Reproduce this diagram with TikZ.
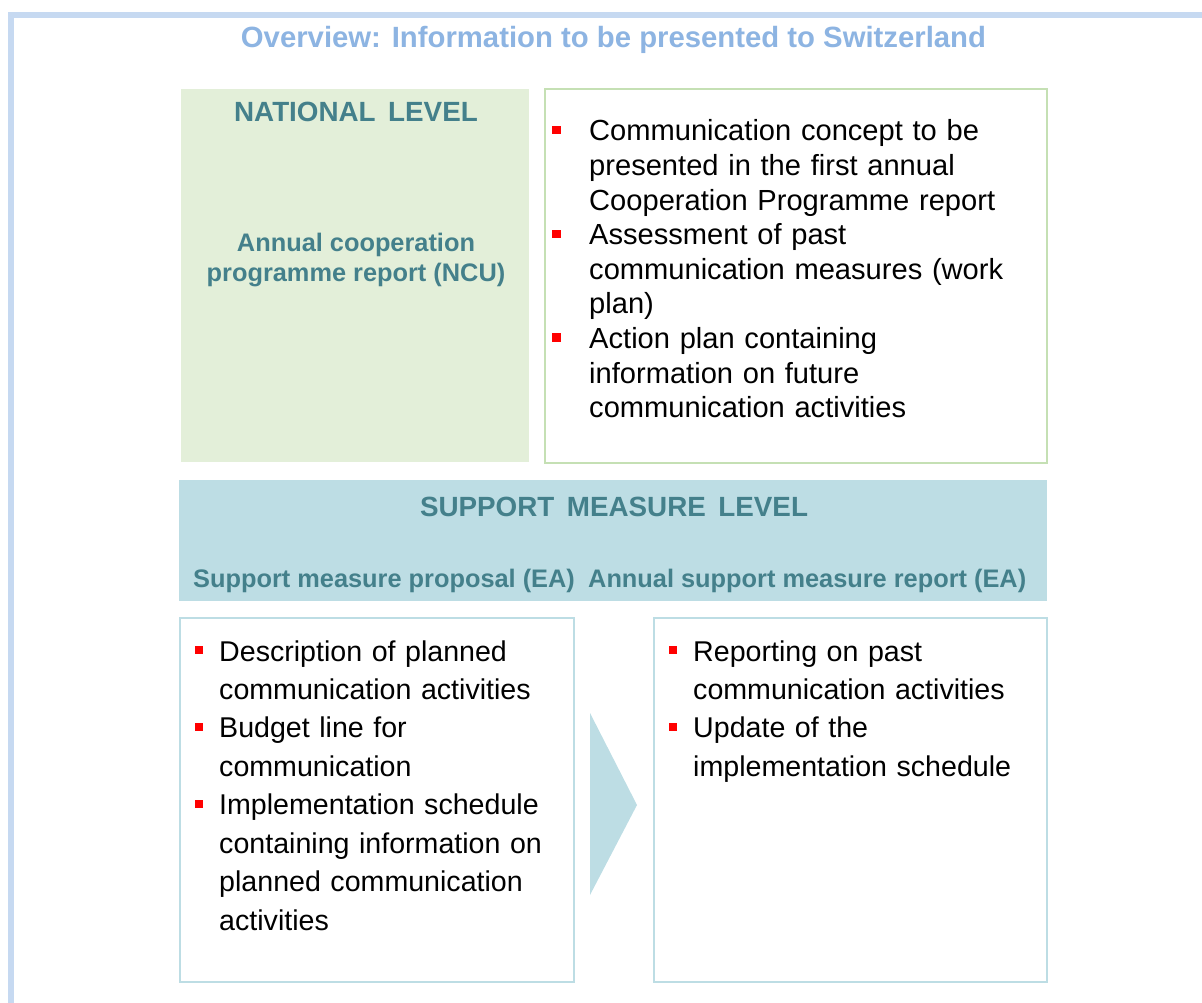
\documentclass[tikz,border=0pt]{standalone}
\usepackage{fontspec}
\setmainfont{Liberation Sans}
\definecolor{titleblue}{HTML}{8DB4E2}
\definecolor{framebl}{HTML}{C6D9F1}
\definecolor{greenfill}{HTML}{E3EFD9}
\definecolor{greenline}{HTML}{C5E0B4}
\definecolor{bluefill}{HTML}{BDDDE4}
\definecolor{teal}{HTML}{44808B}
\definecolor{bulletred}{HTML}{FF0000}
\tikzset{
  panel/.style={draw=bluefill, line width=1.8pt, fill=white},
  heading/.style={text=teal, font=\fontsize{27.8}{32}\selectfont\bfseries, inner sep=0pt},
  subhead/.style={text=teal, font=\fontsize{25.35}{30}\selectfont\bfseries, inner sep=0pt},
  toptext/.style={anchor=base west, inner sep=0pt, align=left, text width=470pt, font=\fontsize{29.1}{34.6}\selectfont},
  bottext/.style={anchor=base west, inner sep=0pt, align=left, text width=360pt, font=\fontsize{28.6}{38.45}\selectfont},
  sq/.style={fill=bulletred, minimum size=8.5pt, inner sep=0pt, outer sep=0pt},
}
\begin{document}
\begin{tikzpicture}[x=1pt,y=-1pt]
\useasboundingbox (0,0) rectangle (1202,1003);
\clip (0,0) rectangle (1202,1003);
% outer frame
\draw[framebl, line width=5.5pt] (1230,15) -- (11.2,15) -- (11.2,1030);
% title
\node[anchor=base, inner sep=0pt, text=titleblue, font=\fontsize{29.3}{34}\selectfont\bfseries] (title) at (613.5,47.5) {Overview: Information to be presented to Switzerland};
% national level
\path[fill=greenfill] (181,89) rectangle (529,462);
\draw[greenline, line width=1.5pt, fill=white] (545,89) rectangle (1047,463);
\node[heading, anchor=base] (natl) at (356,122) {NATIONAL\hspace{0.45em}LEVEL};
\node[subhead, anchor=base, align=center] (acr) at (356,281) {Annual cooperation\\programme report (NCU)};
% top right bullets
\node[sq] (b1) at (556.5,130) {};
\node[sq] (b2) at (556.5,233.8) {};
\node[sq] (b3) at (556.5,337.6) {};
\node[toptext] (t1) at (589,141) {Communication concept to be\\presented in the first annual\\Cooperation Programme report};
\node[toptext] (t2) at (589,244.8) {Assessment of past\\communication measures (work\\plan)};
\node[toptext] (t3) at (589,348.6) {Action plan containing\\information on future\\communication activities};
% support measure level
\path[fill=bluefill] (179,480) rectangle (1047,601);
\node[heading, anchor=base] (sml) at (614,516) {SUPPORT\hspace{0.45em}MEASURE\hspace{0.45em}LEVEL};
\node[subhead, anchor=base west] (smp) at (193,587) {Support measure proposal (EA)};
\node[subhead, anchor=base west] (asr) at (588,587) {Annual support measure report (EA)};
% bottom panels
\draw[panel] (180,618) rectangle (574,982);
\draw[panel] (654,618) rectangle (1047,982);
\fill[bluefill] (590,713) -- (637,805) -- (590,895) -- cycle;
% bottom left bullets
\node[sq] (c1) at (199,650) {};
\node[sq] (c2) at (199,726.9) {};
\node[sq] (c3) at (199,803.8) {};
\node[bottext] (u1) at (219,661) {Description of planned\\communication activities};
\node[bottext] (u2) at (219,737.9) {Budget line for\\communication};
\node[bottext] (u3) at (219,814.8) {Implementation schedule\\containing information on\\planned communication\\activities};
% bottom right bullets
\node[sq] (d1) at (673,650) {};
\node[sq] (d2) at (673,726.9) {};
\node[bottext] (v1) at (693,661) {Reporting on past\\communication activities};
\node[bottext] (v2) at (693,737.9) {Update of the\\implementation schedule};
\end{tikzpicture}
\end{document}
